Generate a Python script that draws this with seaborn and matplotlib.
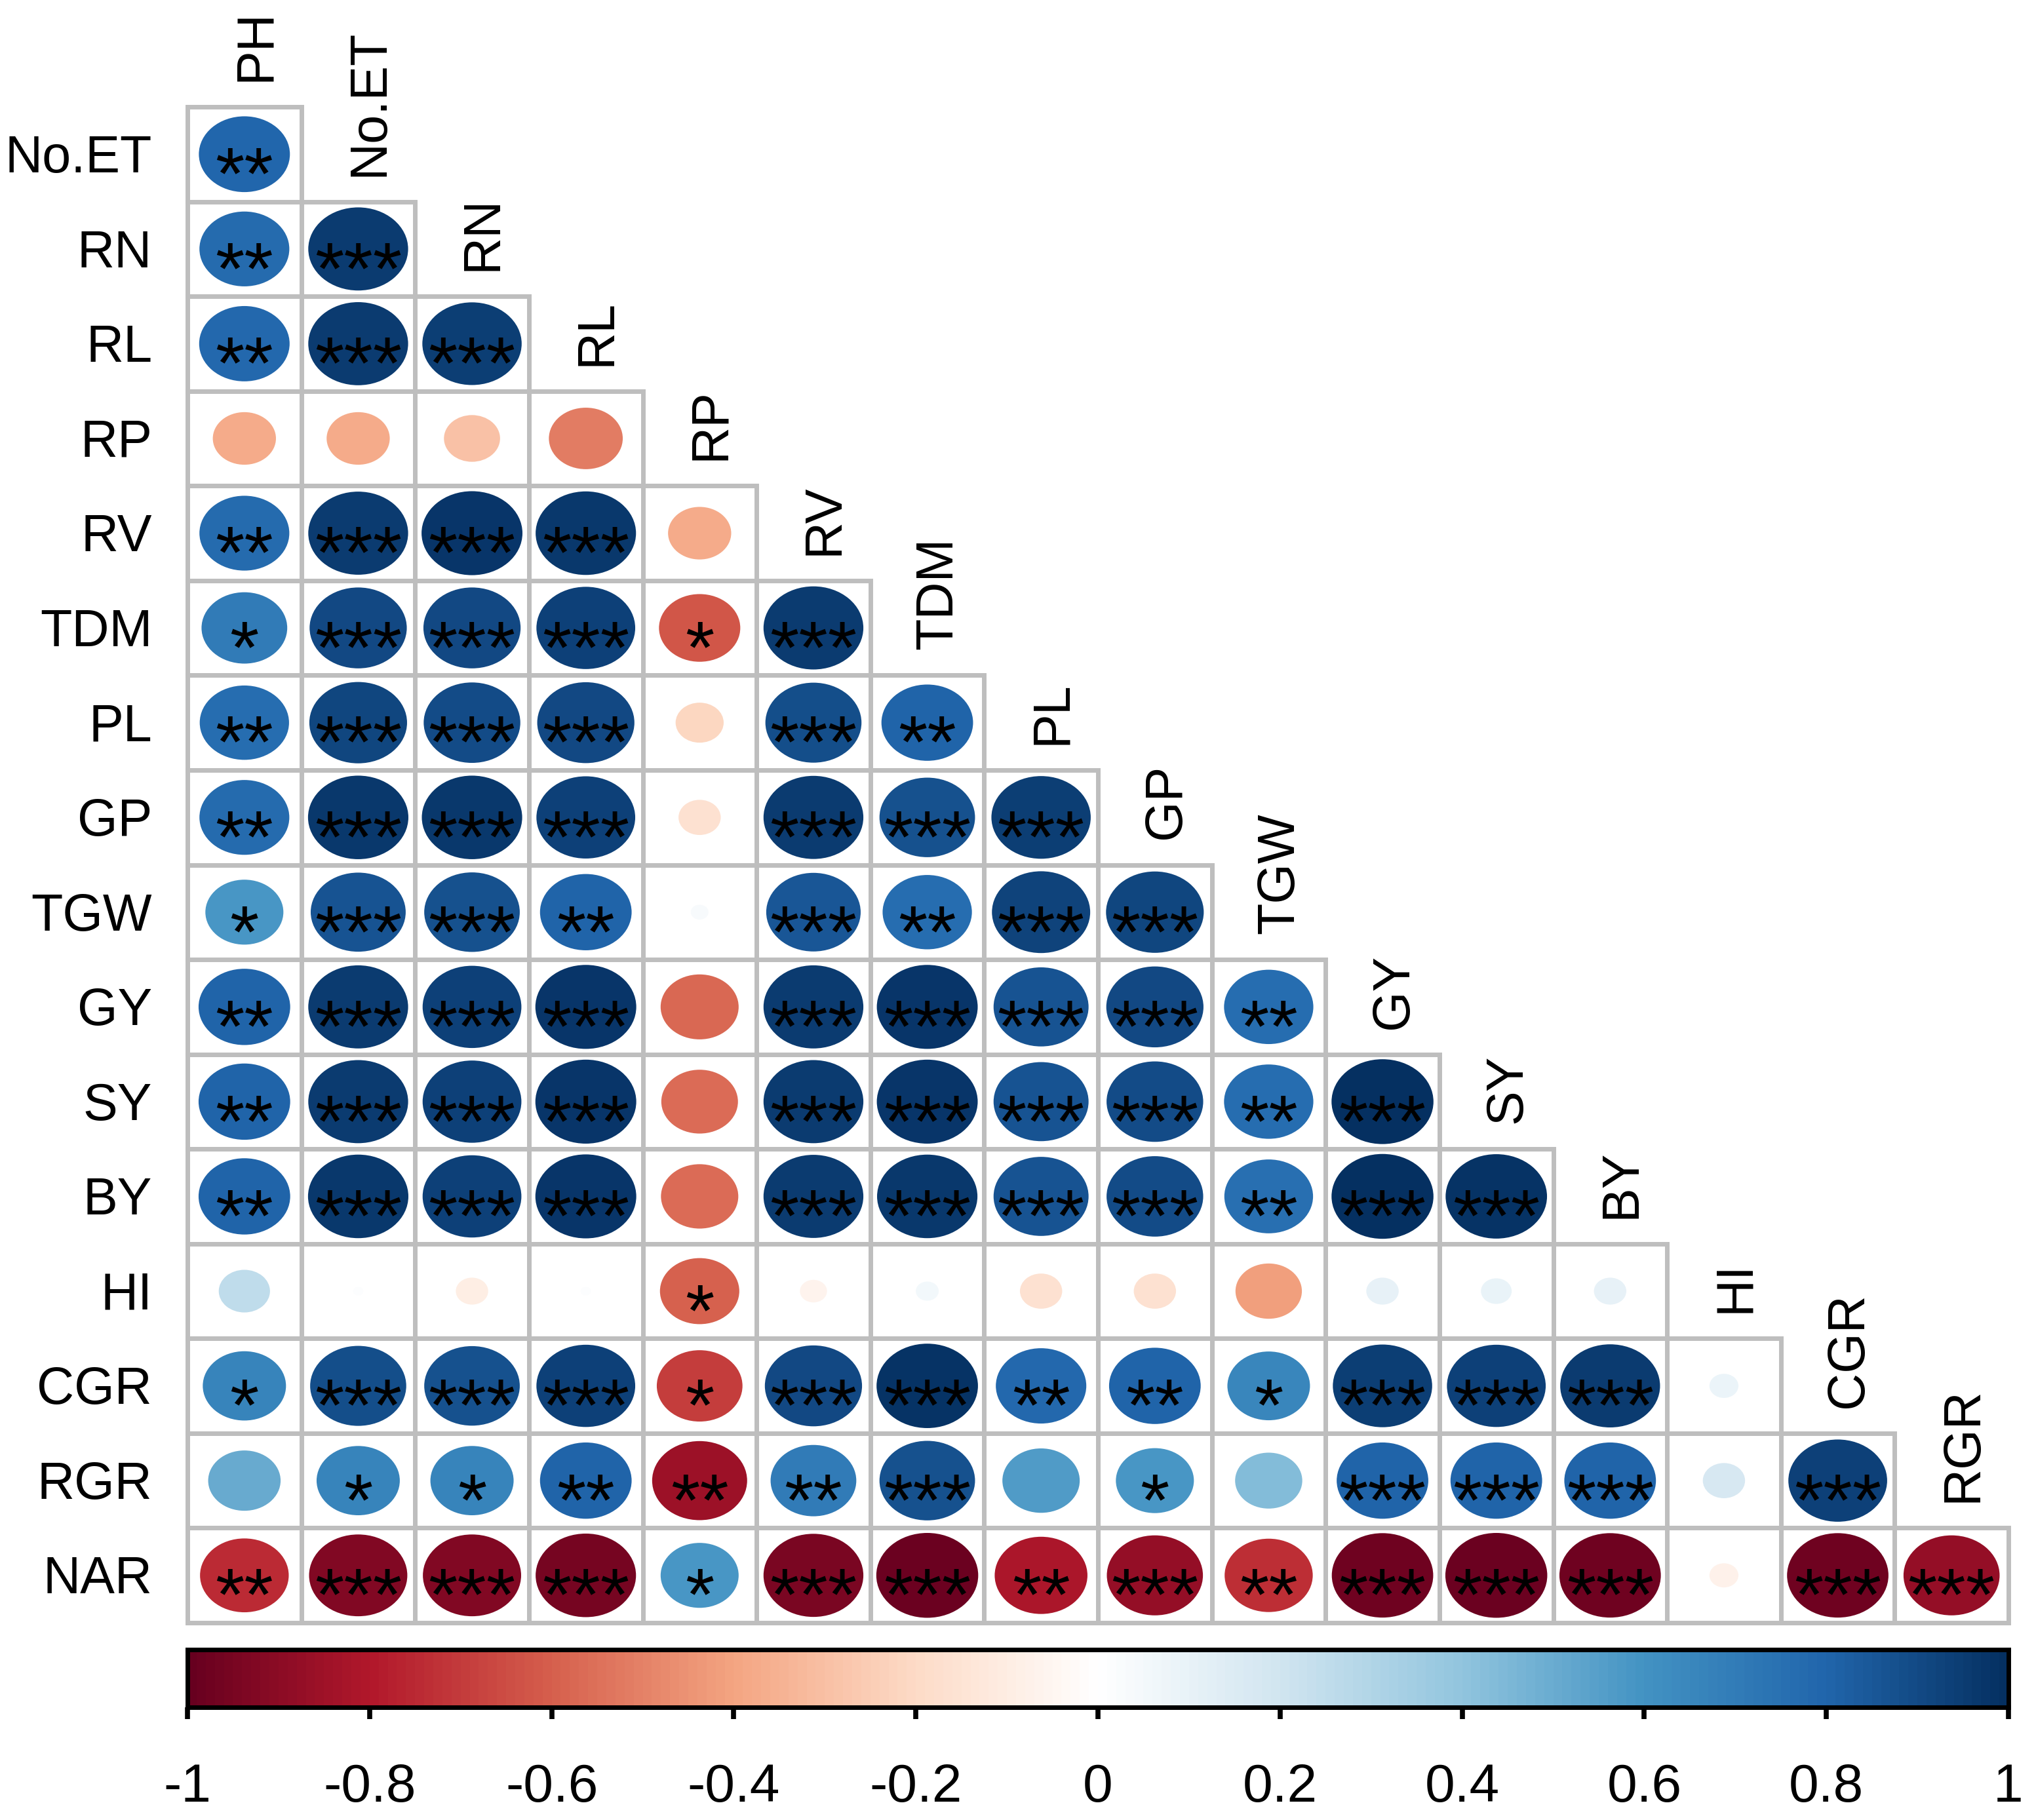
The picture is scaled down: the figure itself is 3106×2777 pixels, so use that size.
import numpy as np
import matplotlib
matplotlib.use("Agg")
import matplotlib.pyplot as plt
import seaborn as sns
from matplotlib.colors import LinearSegmentedColormap, ListedColormap, Normalize
from matplotlib.patches import Ellipse, Rectangle

traits = ["PH", "No.ET", "RN", "RL", "RP", "RV", "TDM", "PL", "GP", "TGW",
          "GY", "SY", "BY", "HI", "CGR", "RGR", "NAR"]

# lower triangle: each row holds r with the traits before it
r_noet = [0.79]
r_rn = [0.77, 0.95]
r_rl = [0.78, 0.95, 0.94]
r_rp = [-0.38, -0.38, -0.30, -0.52]
r_rv = [0.77, 0.95, 0.97, 0.96, -0.38]
r_tdm = [0.70, 0.90, 0.90, 0.93, -0.63, 0.95]
r_pl = [0.76, 0.91, 0.89, 0.90, -0.22, 0.88, 0.80]
r_gp = [0.77, 0.96, 0.96, 0.93, -0.17, 0.95, 0.87, 0.94]
r_tgw = [0.58, 0.86, 0.87, 0.80, 0.03, 0.85, 0.76, 0.92, 0.91]
r_gy = [0.80, 0.95, 0.93, 0.97, -0.58, 0.95, 0.97, 0.86, 0.90, 0.76]
r_sy = [0.80, 0.95, 0.93, 0.97, -0.56, 0.95, 0.97, 0.86, 0.89, 0.76, 0.99]
r_by = [0.80, 0.96, 0.93, 0.97, -0.57, 0.95, 0.96, 0.86, 0.89, 0.75, 0.99, 0.98]
r_hi = [0.25, 0.01, -0.10, 0.01, -0.60, -0.07, 0.05, -0.17, -0.17, -0.42, 0.10, 0.09, 0.10]
r_cgr = [0.66, 0.88, 0.87, 0.93, -0.70, 0.90, 0.98, 0.78, 0.80, 0.65, 0.94, 0.93, 0.95, 0.08]
r_rgr = [0.50, 0.66, 0.66, 0.80, -0.86, 0.70, 0.87, 0.57, 0.58, 0.43, 0.80, 0.80, 0.80, 0.17, 0.93]
r_nar = [-0.75, -0.92, -0.92, -0.96, 0.58, -0.95, -0.99, -0.82, -0.88, -0.74, -0.98, -0.99,
         -0.98, -0.08, -0.98, -0.88]

s_noet = ["**"]
s_rn = ["**", "***"]
s_rl = ["**", "***", "***"]
s_rp = ["", "", "", ""]
s_rv = ["**", "***", "***", "***", ""]
s_tdm = ["*", "***", "***", "***", "*", "***"]
s_pl = ["**", "***", "***", "***", "", "***", "**"]
s_gp = ["**", "***", "***", "***", "", "***", "***", "***"]
s_tgw = ["*", "***", "***", "**", "", "***", "**", "***", "***"]
s_gy = ["**", "***", "***", "***", "", "***", "***", "***", "***", "**"]
s_sy = ["**", "***", "***", "***", "", "***", "***", "***", "***", "**", "***"]
s_by = ["**", "***", "***", "***", "", "***", "***", "***", "***", "**", "***", "***"]
s_hi = ["", "", "", "", "*", "", "", "", "", "", "", "", ""]
s_cgr = ["*", "***", "***", "***", "*", "***", "***", "**", "**", "*", "***", "***", "***", ""]
s_rgr = ["", "*", "*", "**", "**", "**", "***", "", "*", "", "***", "***", "***", "", "***"]
s_nar = ["**", "***", "***", "***", "*", "***", "***", "**", "***", "**", "***", "***", "***",
         "", "***", "***"]

cbar_ticks = [-1, -0.8, -0.6, -0.4, -0.2, 0, 0.2, 0.4, 0.6, 0.8, 1]
cbar_labels = ["-1", "-0.8", "-0.6", "-0.4", "-0.2", "0", "0.2", "0.4", "0.6", "0.8", "1"]

r_rows = [r_noet, r_rn, r_rl, r_rp, r_rv, r_tdm, r_pl, r_gp, r_tgw, r_gy, r_sy, r_by,
          r_hi, r_cgr, r_rgr, r_nar]
s_rows = [s_noet, s_rn, s_rl, s_rp, s_rv, s_tdm, s_pl, s_gp, s_tgw, s_gy, s_sy, s_by,
          s_hi, s_cgr, s_rgr, s_nar]

n = len(r_rows)
row_names = traits[1:]
col_names = traits[:-1]

# corrplot style RdBu ramp
cmap = LinearSegmentedColormap.from_list(
    "corr_rdbu",
    ["#67001F", "#B2182B", "#D6604D", "#F4A582", "#FDDBC7", "#FFFFFF",
     "#D1E5F0", "#92C5DE", "#4393C3", "#2166AC", "#053061"], N=200)
norm = Normalize(-1, 1)

sns.set_style("white")
plt.rcParams["font.family"] = ["Liberation Sans", "DejaVu Sans"]
plt.rcParams["text.color"] = "black"
plt.rcParams["xtick.color"] = "black"
plt.rcParams["xtick.labelcolor"] = "black"

W, H = 3106, 2777
fig = plt.figure(figsize=(W / 100, H / 100), dpi=100)
ax = fig.add_axes([286 / W, 1 - 2476 / H, 2778 / W, 2313 / H])

# white background cells for the lower triangle
mat = np.zeros((n, n))
mask = np.triu(np.ones((n, n), dtype=bool), k=1)
sns.heatmap(mat, mask=mask, cmap=ListedColormap(["white"]), cbar=False,
            linewidths=0, xticklabels=False, yticklabels=False, ax=ax)
ax.set_xlim(0, n)
ax.set_ylim(n, 0)
ax.tick_params(left=False, bottom=False, labelleft=False, labelbottom=False)
for sp in ax.spines.values():
    sp.set_visible(False)

for i, (vals, stars) in enumerate(zip(r_rows, s_rows)):
    for j, (r, s) in enumerate(zip(vals, stars)):
        ax.add_patch(Rectangle((j, i), 1, 1, facecolor="none", edgecolor="#BEBEBE",
                               linewidth=5, clip_on=False, zorder=2))
        d = 0.9 * np.sqrt(abs(r))
        ax.add_patch(Ellipse((j + 0.5, i + 0.5), d, d, facecolor=cmap(norm(r)),
                             edgecolor="none", zorder=3))
        if s:
            ax.text(j + 0.5, i + 0.97, s, ha="center", va="baseline", fontsize=82,
                    color="black", zorder=4)

for i, name in enumerate(row_names):
    ax.text(-0.31, i + 0.55, name, ha="right", va="center", fontsize=57, color="black")
for j, name in enumerate(col_names):
    ax.text(j + 0.6, j - 0.27, name, ha="center", va="bottom", rotation=90,
            fontsize=57, color="black")

# colour legend
cax = fig.add_axes([286 / W, 1 - 2605 / H, 2778 / W, 88 / H])
grad = np.linspace(-1, 1, 200)[None, :]
sns.heatmap(grad, cmap=cmap, vmin=-1, vmax=1, cbar=False,
            xticklabels=False, yticklabels=False, ax=cax)
for sp in cax.spines.values():
    sp.set_visible(True)
    sp.set_linewidth(5)
    sp.set_color("black")
cax.set_xticks([(t + 1) / 2 * 200 for t in cbar_ticks])
cax.set_xticklabels(cbar_labels)
cax.set_yticks([])
cax.tick_params(axis="x", bottom=True, length=13, width=5.5, pad=48,
                labelsize=59, color="black", labelcolor="black")

fig.savefig("out.png", dpi=100, facecolor="white")
